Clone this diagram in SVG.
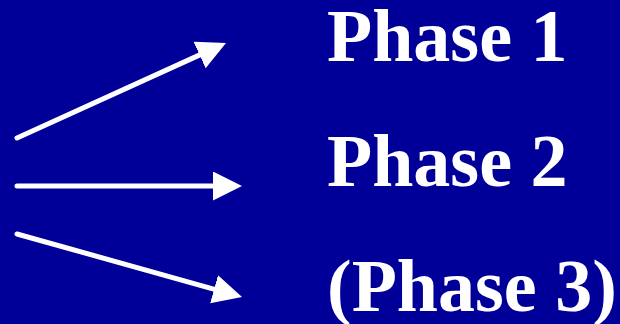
<svg xmlns="http://www.w3.org/2000/svg" width="620" height="324" viewBox="0 0 620 324">
<style>
.conn{stroke:#fff;stroke-width:5;stroke-linecap:round;fill:none}
.lbl{font-family:"Liberation Serif","Times New Roman",serif;font-weight:bold;font-size:74px;fill:#fff}
</style>
<defs>
<marker id="ah" markerUnits="userSpaceOnUse" markerWidth="32" markerHeight="32" refX="19" refY="14.5" orient="auto" viewBox="0 0 32 32">
<path d="M0,0 L29,14.5 L0,29 Z" fill="#fff"/>
</marker>
</defs>
<rect width="620" height="324" fill="#000099"/>
<g id="connectors">
<line class="conn" x1="17" y1="138" x2="216.9" y2="47.1" marker-end="url(#ah)"/>
<line class="conn" x1="17" y1="186" x2="232" y2="186" marker-end="url(#ah)"/>
<line class="conn" x1="17" y1="234" x2="232.4" y2="294.3" marker-end="url(#ah)"/>
</g>
<g id="phase1"><text class="lbl" x="327" y="61">Phase 1</text></g>
<g id="phase2"><text class="lbl" x="327" y="186">Phase 2</text></g>
<g id="phase3"><text class="lbl" x="327" y="311">(Phase 3)</text></g>
</svg>
